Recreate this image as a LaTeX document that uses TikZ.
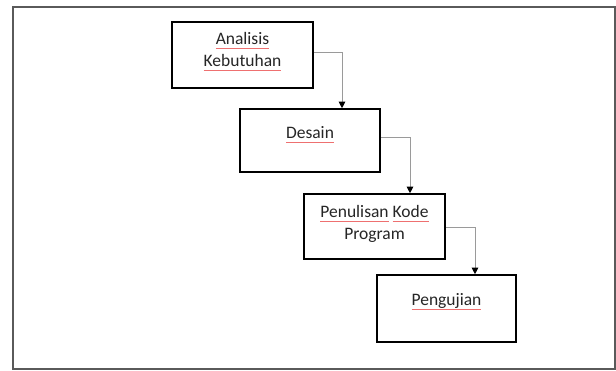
\documentclass[tikz,border=0pt]{standalone}
\usepackage{fontspec}
\setmainfont{Carlito}
\usetikzlibrary{arrows.meta}
\definecolor{framegray}{HTML}{5A5A5A}
\definecolor{linegray}{HTML}{9A9A9A}
\definecolor{txtgray}{HTML}{262626}
\definecolor{spellred}{HTML}{EE7070}
\newcommand\spellw[1]{\setbox0\hbox{#1}\rlap{\textcolor{spellred}{\rule[-4.5pt]{\wd0}{1pt}}}\box0\relax}
\begin{document}
\begin{tikzpicture}[x=1pt,y=-1pt,
  stagebox/.style={draw=black,line width=1.6pt,rectangle,inner sep=0pt,fill=white},
  stagetxt/.style={align=center,inner sep=0pt,text=txtgray,font=\fontsize{17.5}{22}\selectfont},
  conn/.style={draw=linegray,line width=1pt,-{Triangle[width=6.5pt,length=6.5pt,color=black]}}]
\useasboundingbox (0,0) rectangle (616,370);
\fill[white] (0,0) rectangle (616,370);
\draw[framegray,line width=2pt] (13,6.5) rectangle (614.5,368.5);
% boxes
\node[stagebox,minimum width=141pt,minimum height=66pt] (b1) at (242.5,55) {};
\node[stagebox,minimum width=140pt,minimum height=63pt] (b2) at (310,140.5) {};
\node[stagebox,minimum width=141pt,minimum height=65pt] (b3) at (374.5,226.5) {};
\node[stagebox,minimum width=139pt,minimum height=67pt] (b4) at (446.5,308.5) {};
% texts
\node[stagetxt] (t1) at (242.5,52) {\spellw{Analisis}\\\spellw{Kebutuhan}};
\node[stagetxt] (t2) at (310,135) {\spellw{Desain}};
\node[stagetxt] (t3) at (374.5,224) {\spellw{Penulisan} \spellw{Kode}\\Program};
\node[stagetxt] (t4) at (446.5,302) {\spellw{Pengujian}};
% connector bends
\coordinate (a1) at (342,52);
\coordinate (a2) at (410,137);
\coordinate (a3) at (475,227);
\draw[conn] (b1.east |- a1) -| (b2.north -| a1);
\draw[conn] (b2.east |- a2) -| (b3.north -| a2);
\draw[conn] (b3.east |- a3) -| (b4.north -| a3);
\end{tikzpicture}
\end{document}
